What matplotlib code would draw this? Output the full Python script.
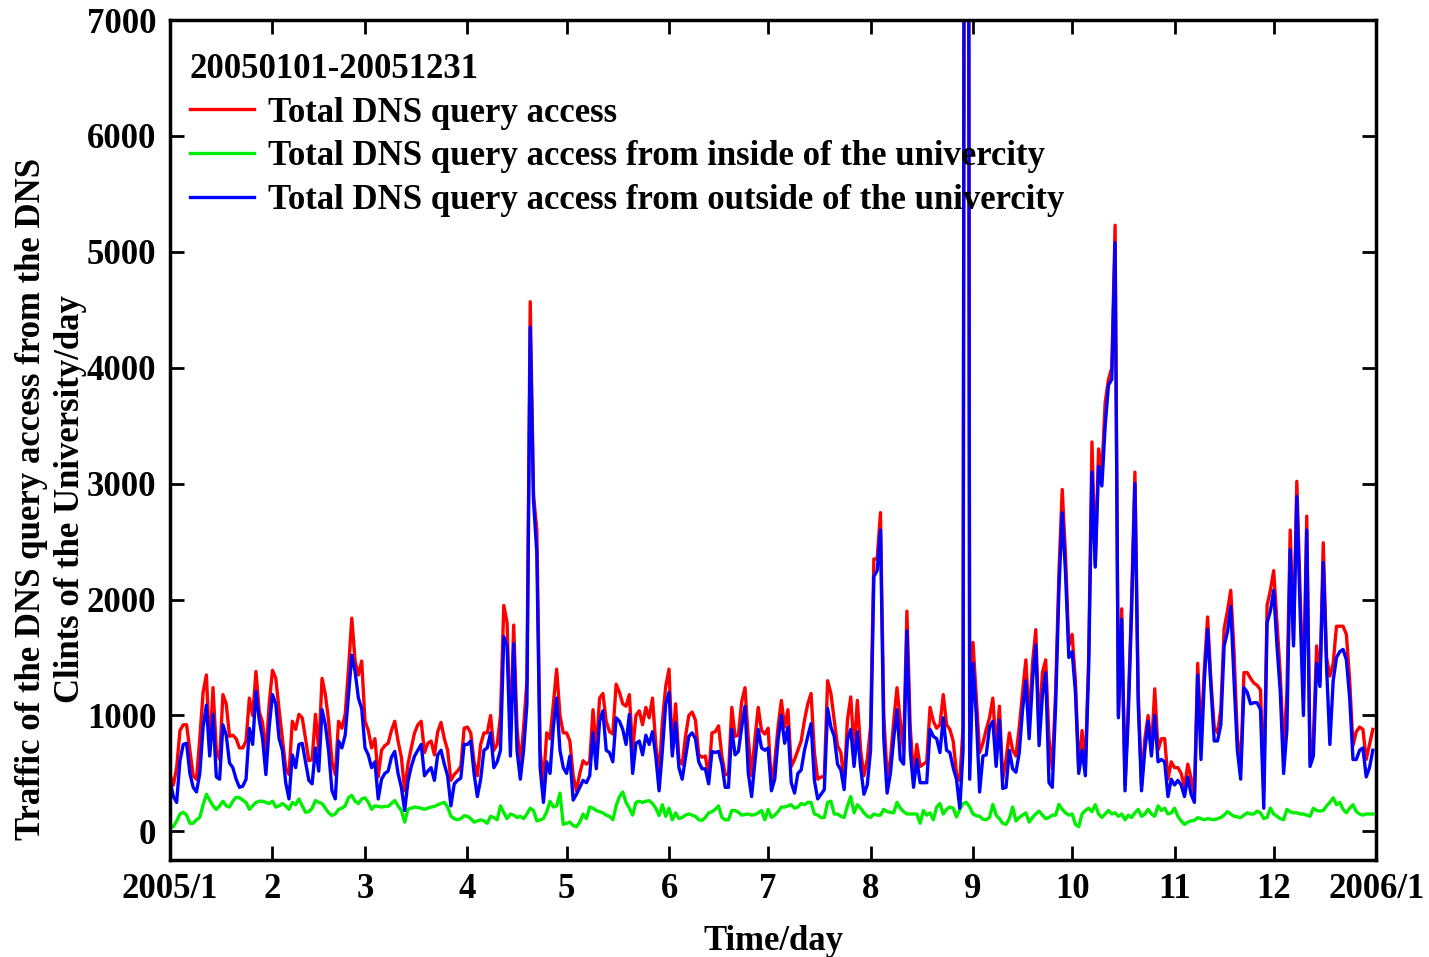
import numpy as np
import matplotlib
matplotlib.use('Agg')
import matplotlib.pyplot as plt

plt.rcParams['font.family'] = ['Liberation Serif', 'DejaVu Serif']
plt.rcParams['font.weight'] = 'bold'

# daily totals per month (queries/day)
total_jan = [490, 400, 550, 870, 920, 920, 700, 480, 450, 800, 1200, 1350, 700, 1240, 700, 620,
             1180, 1100, 820, 830, 800, 720, 720, 780, 1150, 1000, 1380, 1030, 940, 660, 1100]
total_feb = [1390, 1320, 1050, 800, 550, 490, 950, 880, 1010, 980, 800, 610, 620, 1010, 700, 1320,
             1180, 950, 600, 490, 950, 890, 1010, 1400, 1840, 1470, 1350, 1470]
total_mar = [950, 870, 720, 800, 470, 700, 740, 760, 870, 950, 780, 640, 350, 580, 720, 850,
             920, 950, 680, 760, 780, 660, 860, 940, 800, 700, 440, 490, 520, 560, 890]
total_apr = [900, 850, 600, 480, 750, 850, 850, 1000, 700, 750, 1000, 1950, 1800, 800, 1780,
             900, 560, 900, 1300, 4570, 2900, 2600, 700, 420, 850, 800, 1100, 1400, 1000, 850]
total_may = [850, 780, 480, 350, 500, 610, 580, 600, 1050, 700, 1150, 1190, 950, 860, 840, 1270,
             1200, 1100, 1080, 1180, 700, 1000, 1040, 920, 1070, 980, 1150, 750, 490, 950, 1250]
total_jun = [1400, 700, 1100, 620, 580, 820, 1000, 1030, 960, 660, 640, 650, 470, 850, 860,
             910, 650, 490, 490, 1070, 820, 830, 1120, 1240, 800, 480, 800, 1070, 870, 840]
total_jul = [890, 400, 600, 900, 1130, 900, 1050, 560, 620, 700, 780, 960, 1100, 1190, 680, 450,
             470, 470, 1300, 1190, 960, 740, 680, 420, 960, 1160, 700, 1130, 700, 480, 620]
total_aug = [900, 2350, 2350, 2750, 1000, 480, 620, 950, 1240, 950, 700, 1900, 900, 480, 750, 560,
             580, 600, 1070, 950, 890, 920, 1180, 920, 880, 780, 500, 440, 900, 25000, 600]
total_sep = [1630, 1150, 680, 760, 880, 980, 1150, 700, 1080, 450, 620, 850, 700, 650, 900,
             1200, 1480, 940, 1450, 1740, 850, 1370, 1480, 800, 540, 1200, 2230, 2950, 2380, 1600]
total_oct = [1700, 1300, 530, 870, 560, 1500, 3360, 2300, 3300, 3100, 3700, 3900, 4000, 5230, 1000,
             1920, 400, 1100, 2000, 3100, 1200, 400, 800, 1000, 700, 1230, 700, 800, 800, 450, 600]
total_nov = [550, 550, 500, 380, 580, 460, 310, 1450, 800, 1400, 1850, 1300, 900, 850, 1050,
             1750, 1900, 2080, 1550, 820, 540, 1370, 1370, 1320, 1280, 1260, 1220, 350, 1950, 2080]
total_dec = [2250, 1800, 1350, 680, 1200, 2600, 1650, 3020, 2050, 1150, 2720, 620, 800, 1600, 1300,
             2490, 1500, 1340, 1450, 1770, 1770, 1770, 1700, 1300, 740, 860, 900, 880, 620, 750, 880]

# queries coming from inside the university
inside_jan = [50, 40, 90, 150, 165, 140, 70, 70, 100, 120, 230, 320, 270, 220, 190, 220,
              260, 220, 210, 260, 294, 290, 270, 250, 190, 220, 250, 260, 260, 250, 240]
inside_feb = [260, 210, 220, 240, 220, 190, 250, 230, 280, 220, 165, 170, 200, 266, 250, 240,
              200, 160, 137, 150, 190, 200, 220, 290, 310, 260, 240, 280]
inside_mar = [290, 250, 190, 220, 215, 210, 215, 215, 240, 266, 220, 180, 80, 190, 200, 210,
              205, 200, 190, 200, 210, 215, 230, 240, 250, 210, 130, 110, 100, 110, 135]
inside_apr = [130, 110, 80, 90, 100, 90, 70, 130, 120, 100, 220, 160, 110, 150, 140,
              120, 130, 110, 150, 200, 180, 90, 100, 110, 170, 260, 210, 220, 330, 60]
inside_may = [70, 80, 50, 40, 80, 150, 110, 210, 200, 180, 170, 160, 140, 130, 100, 220,
              300, 340, 250, 200, 140, 250, 260, 250, 260, 265, 240, 200, 137, 230, 130]
inside_jun = [200, 100, 160, 110, 120, 140, 150, 140, 130, 100, 95, 120, 160, 170, 190,
              220, 120, 100, 100, 180, 180, 165, 140, 145, 150, 140, 145, 160, 180, 100]
inside_jul = [190, 120, 140, 170, 210, 210, 220, 230, 200, 210, 240, 230, 250, 250, 150, 140,
              120, 120, 250, 260, 150, 150, 130, 120, 220, 300, 160, 230, 200, 160, 130]
inside_aug = [120, 150, 140, 140, 190, 170, 165, 160, 250, 200, 170, 150, 150, 150, 150, 70,
              180, 140, 160, 100, 210, 240, 150, 190, 210, 200, 125, 190, 240, 250, 210]
inside_sep = [150, 135, 130, 105, 100, 120, 233, 140, 110, 70, 60, 110, 210, 90, 120,
              140, 160, 80, 120, 150, 175, 140, 110, 120, 140, 140, 233, 190, 160, 140]
inside_oct = [150, 60, 40, 150, 180, 200, 170, 230, 150, 120, 150, 180, 150, 160, 130,
              150, 100, 140, 120, 160, 190, 130, 150, 190, 150, 130, 220, 180, 200, 150, 160]
inside_nov = [200, 130, 90, 60, 80, 90, 95, 118, 110, 100, 110, 105, 100, 110, 120,
              140, 170, 150, 130, 125, 118, 140, 160, 150, 150, 175, 160, 110, 120, 200]
inside_dec = [150, 130, 110, 100, 190, 170, 160, 160, 150, 150, 140, 130, 200, 180, 175,
              180, 220, 250, 290, 230, 250, 190, 160, 200, 230, 170, 150, 140, 150, 150, 150]

# queries coming from outside the university
outside_jan = [440, 300, 250, 610, 750, 760, 500, 380, 340, 500, 900, 1090, 650, 1010, 470, 450,
               920, 830, 590, 550, 450, 380, 390, 450, 890, 750, 1210, 960, 800, 490, 900]
outside_feb = [1180, 1100, 800, 700, 420, 280, 660, 550, 750, 760, 600, 440, 410, 720, 520, 1050,
               920, 690, 350, 280, 780, 720, 830, 1180, 1520, 1380, 1150, 1060]
outside_mar = [720, 660, 550, 600, 280, 450, 500, 520, 640, 690, 500, 380, 180, 430, 560, 650,
               700, 750, 480, 520, 550, 440, 660, 700, 580, 480, 220, 410, 440, 460, 750]
outside_apr = [750, 780, 500, 300, 450, 700, 720, 850, 550, 600, 700, 1680, 1600, 650, 1620,
               700, 450, 700, 1100, 4350, 2850, 2400, 550, 250, 600, 500, 900, 1150, 700, 550]
outside_may = [500, 650, 270, 320, 380, 440, 420, 480, 850, 540, 950, 1040, 700, 680, 600, 980,
               950, 880, 750, 1010, 500, 760, 780, 660, 830, 750, 860, 650, 350, 700, 1100]
outside_jun = [1200, 650, 940, 550, 450, 640, 820, 850, 800, 600, 540, 540, 410, 690, 680,
               690, 580, 380, 380, 880, 660, 690, 900, 1080, 500, 300, 600, 880, 720, 700]
outside_jul = [720, 350, 450, 790, 1000, 760, 900, 420, 330, 500, 530, 700, 820, 930, 440, 280,
               320, 360, 1060, 900, 820, 580, 530, 360, 790, 880, 560, 860, 550, 320, 400]
outside_aug = [700, 2200, 2250, 2600, 800, 330, 500, 800, 1050, 620, 580, 1730, 700, 380, 620, 420,
               420, 420, 880, 820, 800, 680, 980, 700, 680, 550, 450, 200, 700, 24500, 450]
outside_sep = [1450, 1000, 340, 650, 660, 900, 950, 560, 960, 370, 380, 700, 540, 510, 680,
               1050, 1300, 800, 1300, 1610, 740, 1170, 1370, 420, 380, 1080, 2080, 2750, 2230, 1500]
outside_oct = [1550, 1200, 500, 700, 480, 1400, 3100, 2280, 3150, 2980, 3500, 3850, 3900, 5080, 980,
               1830, 350, 1000, 1900, 3000, 1100, 350, 700, 950, 650, 1000, 600, 620, 600, 300, 450]
outside_nov = [400, 440, 400, 300, 470, 320, 250, 1350, 620, 1300, 1740, 1250, 780, 780, 920,
               1600, 1720, 1940, 1300, 700, 450, 1240, 1200, 1100, 1110, 1110, 1050, 200, 1800, 1900]
outside_dec = [2080, 1600, 1200, 500, 880, 2430, 1600, 2890, 1900, 1000, 2600, 560, 650, 1450, 1250,
               2320, 1420, 750, 1300, 1500, 1550, 1570, 1480, 1150, 620, 620, 700, 720, 470, 550, 700]

month_labels = ['2005/1', '2', '3', '4', '5', '6', '7', '8', '9', '10', '11', '12', '2006/1']
month_start = [0, 31, 59, 90, 120, 151, 181, 212, 243, 273, 304, 334, 365]

total = np.concatenate([total_jan, total_feb, total_mar, total_apr, total_may, total_jun,
                        total_jul, total_aug, total_sep, total_oct, total_nov, total_dec])
inside = np.concatenate([inside_jan, inside_feb, inside_mar, inside_apr, inside_may, inside_jun,
                         inside_jul, inside_aug, inside_sep, inside_oct, inside_nov, inside_dec])
outside = np.concatenate([outside_jan, outside_feb, outside_mar, outside_apr, outside_may, outside_jun,
                          outside_jul, outside_aug, outside_sep, outside_oct, outside_nov, outside_dec])
days = np.arange(len(total))

fig = plt.figure(figsize=(14.29, 9.57), dpi=100)
ax = fig.add_axes([0.119, 0.101, 0.844, 0.878])

ax.plot(days, total, color='#ff0000', lw=2.4, label='Total DNS query access')
ax.plot(days, inside, color='#00ee00', lw=2.4, label='Total DNS query access from inside of the univercity')
ax.plot(days, outside, color='#0000ff', lw=2.4, label='Total DNS query access from outside of the univercity')

ax.set_xlim(0, 365)
ax.set_ylim(-250, 7000)
ax.set_xticks(month_start)
ax.set_xticklabels(month_labels)
ax.set_yticks(np.arange(0, 7001, 1000))
ax.tick_params(axis='both', direction='in', length=10, width=2, labelsize=25,
               top=True, right=True)
ax.tick_params(axis='x', pad=9)
ax.tick_params(axis='y', pad=10)
for lab in ax.get_xticklabels() + ax.get_yticklabels():
    lab.set_fontweight('bold')
for sp in ax.spines.values():
    sp.set_linewidth(2.5)

ax.set_xlabel('Time/day', fontsize=25, fontweight='bold', labelpad=14)
ax.set_ylabel('Traffic of the DNS query access from the DNS\nClints of the University/day',
              fontsize=25, fontweight='bold', linespacing=1.25)
ax.yaxis.set_label_coords(-0.069, 0.43)

leg = ax.legend(loc='upper left', title='20050101-20051231', fontsize=25, title_fontsize=25,
                frameon=False, handlelength=1.87, handletextpad=0.4, borderaxespad=0.3,
                labelspacing=0.31, bbox_to_anchor=(-0.004, 0.99))
leg._legend_box.align = 'left'
leg.get_title().set_fontweight('bold')
for t in leg.get_texts():
    t.set_fontweight('bold')

fig.savefig('out.png', dpi=100)
